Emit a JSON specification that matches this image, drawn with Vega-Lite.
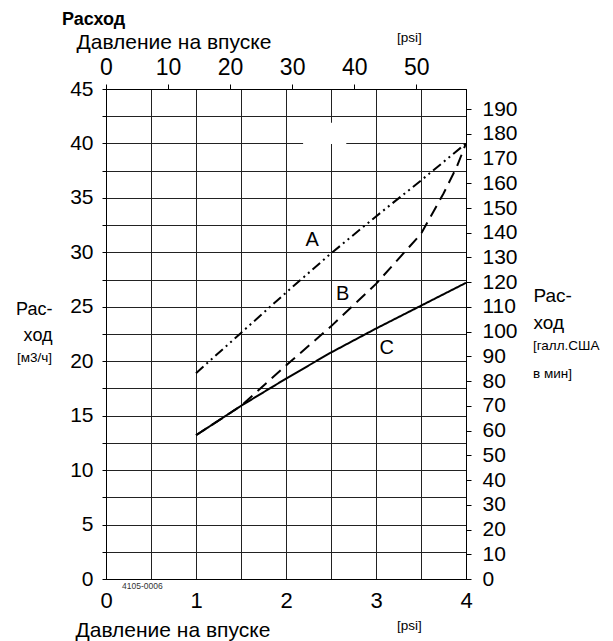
{
  "$schema": "https://vega.github.io/schema/vega-lite/v6.json",
  "width": 360,
  "height": 490,
  "autosize": {"type": "none"},
  "padding": {"left": 106, "top": 89, "right": 147, "bottom": 62},
  "background": "white",
  "config": {
    "font": "Liberation Sans",
    "view": {"stroke": "black", "strokeWidth": 1},
    "axis": {
      "domainColor": "black",
      "tickColor": "black",
      "labelColor": "black",
      "titleColor": "black",
      "labelFont": "Liberation Sans",
      "titleFont": "Liberation Sans",
      "titleFontWeight": "normal"
    }
  },
  "title": {
    "text": "Расход",
    "anchor": "start",
    "frame": "group",
    "font": "Liberation Sans",
    "fontSize": 18,
    "fontWeight": "bold",
    "color": "black",
    "dx": -44,
    "dy": 2
  },
  "datasets": {
    "curves": [
      {"curve": "A", "bar": 1.0, "m3h": 18.9},
      {"curve": "A", "bar": 1.5, "m3h": 22.6},
      {"curve": "A", "bar": 2.0, "m3h": 26.3},
      {"curve": "A", "bar": 2.5, "m3h": 29.9},
      {"curve": "A", "bar": 3.0, "m3h": 33.3},
      {"curve": "A", "bar": 3.5, "m3h": 36.6},
      {"curve": "A", "bar": 4.0, "m3h": 40.0},
      {"curve": "B", "bar": 1.0, "m3h": 13.2},
      {"curve": "B", "bar": 1.5, "m3h": 15.9},
      {"curve": "B", "bar": 2.0, "m3h": 19.6},
      {"curve": "B", "bar": 2.5, "m3h": 23.2},
      {"curve": "B", "bar": 3.0, "m3h": 27.1},
      {"curve": "B", "bar": 3.5, "m3h": 31.7},
      {"curve": "B", "bar": 3.75, "m3h": 35.4},
      {"curve": "B", "bar": 3.9, "m3h": 37.9},
      {"curve": "B", "bar": 4.0, "m3h": 40.0},
      {"curve": "C", "bar": 1.0, "m3h": 13.2},
      {"curve": "C", "bar": 1.5, "m3h": 15.9},
      {"curve": "C", "bar": 2.0, "m3h": 18.4},
      {"curve": "C", "bar": 2.5, "m3h": 20.8},
      {"curve": "C", "bar": 3.0, "m3h": 23.0},
      {"curve": "C", "bar": 3.5, "m3h": 25.1},
      {"curve": "C", "bar": 4.0, "m3h": 27.2}
    ],
    "curveLabels": [
      {"label": "A", "bar": 2.29, "m3h": 31.1},
      {"label": "B", "bar": 2.63, "m3h": 26.2},
      {"label": "C", "bar": 3.12, "m3h": 21.2}
    ],
    "mask": [
      {"bar": 2.19, "bar2": 2.67, "m3h": 39.95, "m3h2": 41.9}
    ],
    "unitsLeftAligned": [
      {"note": "[галл.США", "bar": 4.744, "m3h": 21.03},
      {"note": "в мин]", "bar": 4.744, "m3h": 18.46},
      {"note": "[psi]", "bar": 3.233, "m3h": -4.68},
      {"note": "[psi]", "bar": 3.233, "m3h": 49.32}
    ],
    "unitsRightAligned": [
      {"note": "[м3/ч]", "bar": -0.6, "m3h": 19.93}
    ],
    "code": [
      {"note": "4105-0006", "bar": 0.178, "m3h": -0.92}
    ],
    "secondaryScales": [
      {"psi": 0, "gpm": 0},
      {"psi": 58.015, "gpm": 198.13}
    ]
  },
  "layer": [
    {
      "encoding": {
        "x": {
          "field": "bar",
          "type": "quantitative",
          "scale": {"domain": [0, 4], "nice": false, "zero": false},
          "axis": {
            "orient": "bottom",
            "title": "Давление на впуске",
            "titleFontSize": 21,
            "titleAlign": "left",
            "titleAnchor": "start",
            "titleBaseline": "alphabetic",
            "titleX": -31,
            "titleY": 57,
            "values": [0, 0.5, 1, 1.5, 2, 2.5, 3, 3.5, 4],
            "labelExpr": "datum.value % 1 === 0 ? format(datum.value, 'd') : ''",
            "labelFontSize": 22,
            "labelFlush": false,
            "labelOverlap": false,
            "ticks": false,
            "tickSize": 0,
            "labelPadding": 11,
            "grid": true,
            "gridColor": "#222",
            "gridWidth": 1
          }
        },
        "y": {
          "field": "m3h",
          "type": "quantitative",
          "scale": {"domain": [0, 45], "nice": false, "zero": false},
          "axis": {
            "orient": "left",
            "title": ["Рас-", "ход"],
            "titleFontSize": 18,
            "titleAngle": 0,
            "titleAlign": "right",
            "titleBaseline": "alphabetic",
            "titleLineHeight": 26,
            "titleX": -54,
            "titleY": 225,
            "values": [0, 2.5, 5, 7.5, 10, 12.5, 15, 17.5, 20, 22.5, 25, 27.5, 30, 32.5, 35, 37.5, 40, 42.5, 45],
            "labelExpr": "datum.value % 5 === 0 ? datum.label : ''",
            "labelFontSize": 21,
            "labelFlush": false,
            "labelOverlap": false,
            "tickSize": 4,
            "labelPadding": 9,
            "grid": true,
            "gridColor": "#222",
            "gridWidth": 1
          }
        }
      },
      "layer": [
        {
          "data": {"name": "mask"},
          "mark": {"type": "rect", "fill": "white", "stroke": null},
          "encoding": {
            "x2": {"field": "bar2"},
            "y2": {"field": "m3h2"}
          }
        },
        {
          "data": {"name": "curves"},
          "mark": {"type": "line", "color": "black", "strokeWidth": 2},
          "encoding": {
            "strokeDash": {
              "field": "curve",
              "type": "nominal",
              "scale": {"domain": ["A", "B", "C"], "range": [[10, 4, 2, 4, 2, 4], [12, 7], [1, 0]]},
              "legend": null
            },
            "order": {"field": "bar", "type": "quantitative"}
          }
        },
        {
          "data": {"name": "curveLabels"},
          "mark": {"type": "text", "fontSize": 20, "color": "black", "align": "center", "baseline": "middle"},
          "encoding": {"text": {"field": "label"}}
        },
        {
          "data": {"name": "unitsLeftAligned"},
          "mark": {"type": "text", "fontSize": 13.5, "color": "black", "align": "left", "baseline": "alphabetic"},
          "encoding": {"text": {"field": "note"}}
        },
        {
          "data": {"name": "unitsRightAligned"},
          "mark": {"type": "text", "fontSize": 13.5, "color": "black", "align": "right", "baseline": "alphabetic"},
          "encoding": {"text": {"field": "note"}}
        },
        {
          "data": {"name": "code"},
          "mark": {"type": "text", "fontSize": 8.5, "color": "#333", "align": "left", "baseline": "alphabetic"},
          "encoding": {"text": {"field": "note"}}
        }
      ]
    },
    {
      "data": {"name": "secondaryScales"},
      "mark": {"type": "point", "opacity": 0},
      "encoding": {
        "x": {
          "field": "psi",
          "type": "quantitative",
          "scale": {"domain": [0, 58.015], "nice": false, "zero": false},
          "axis": {
            "orient": "top",
            "title": "Давление на впуске",
            "titleFontSize": 21,
            "titleAlign": "left",
            "titleAnchor": "start",
            "titleBaseline": "alphabetic",
            "titleX": -30,
            "titleY": -41,
            "values": [0, 10, 20, 30, 40, 50],
            "labelFontSize": 23,
            "labelFlush": false,
            "labelOverlap": false,
            "tickSize": 5,
            "labelPadding": 5,
            "grid": false
          }
        },
        "y": {
          "field": "gpm",
          "type": "quantitative",
          "scale": {"domain": [0, 198.13], "nice": false, "zero": false},
          "axis": {
            "orient": "right",
            "title": ["Рас-", "ход"],
            "titleFontSize": 19,
            "titleAngle": 0,
            "titleAlign": "left",
            "titleBaseline": "alphabetic",
            "titleLineHeight": 27,
            "titleX": 67,
            "titleY": 212,
            "values": [0, 10, 20, 30, 40, 50, 60, 70, 80, 90, 100, 110, 120, 130, 140, 150, 160, 170, 180, 190],
            "labelFontSize": 21,
            "labelFlush": false,
            "labelOverlap": false,
            "tickSize": 5,
            "labelPadding": 11,
            "grid": false
          }
        }
      }
    }
  ],
  "resolve": {"scale": {"x": "independent", "y": "independent"}}
}
